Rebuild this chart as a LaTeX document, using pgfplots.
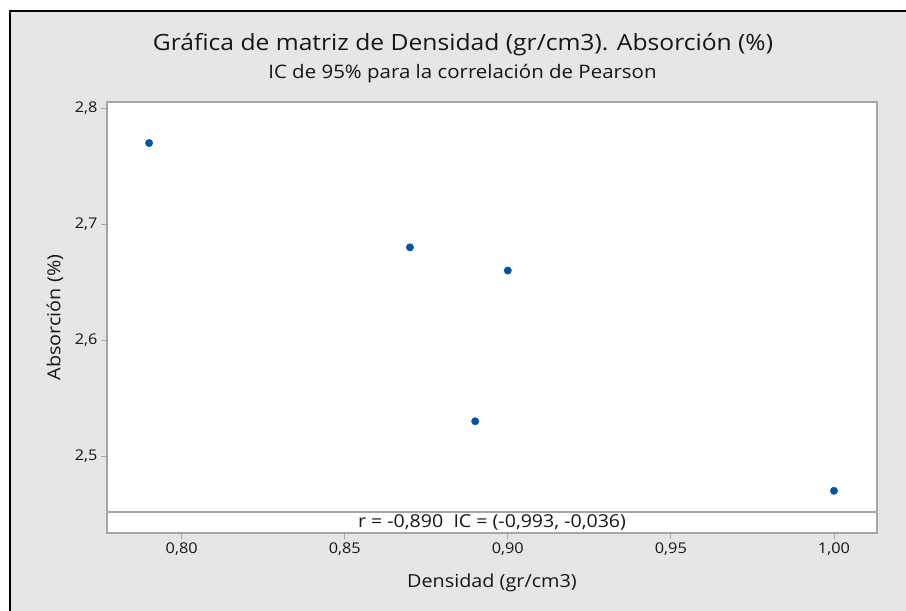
\documentclass[border=0pt]{standalone}
\usepackage{pgfplots}
\pgfplotsset{compat=1.18}
\usepackage{fontspec}
\setmainfont{Open Sans}[FakeStretch=1.1]
\definecolor{bggray}{HTML}{E6E6E6}
\definecolor{axgray}{HTML}{A6A6A6}
\definecolor{ptblue}{HTML}{0054A6}
\definecolor{txt}{HTML}{161616}
\begin{document}
\begin{tikzpicture}
\useasboundingbox (0pt,0pt) rectangle (906pt,611pt);
\fill[white] (0pt,0pt) rectangle (906pt,611pt);
\fill[bggray] (10pt,0pt) rectangle (906pt,600pt);
\draw[black, line width=2pt] (10pt,0pt) -- (10pt,600pt) -- (906pt,600pt);
\node[font=\fontsize{22.4}{26}\selectfont, text=txt] at (463pt,566pt) {Gráfica de matriz de Densidad (gr/cm3). Absorción (\%)};
\node[font=\fontsize{18.6}{22}\selectfont, text=txt] at (462.5pt,537pt) {IC de 95\% para la correlación de Pearson};
\begin{axis}[
  at={(107pt,78pt)}, anchor=south west,
  scale only axis, width=770pt, height=431pt,
  xmin=0.7771, xmax=1.0132,
  ymin=2.4336, ymax=2.8054,
  axis background/.style={fill=white},
  axis line style={axgray, line width=1.2pt},
  xtick={0.80,0.85,0.90,0.95,1.00},
  ytick={2.5,2.6,2.7,2.8},
  tick style={axgray, line width=0.8pt},
  tick align=outside, major tick length=5.5pt,
  xtick pos=bottom, ytick pos=left,
  xticklabel style={/pgf/number format/fixed, /pgf/number format/fixed zerofill, /pgf/number format/precision=2, /pgf/number format/use comma, yshift=-1pt},
  yticklabel style={/pgf/number format/fixed, /pgf/number format/fixed zerofill, /pgf/number format/precision=1, /pgf/number format/use comma, xshift=-0.5pt},
  /pgf/number format/assume math mode=true,
  tick label style={font=\fontsize{14.8}{17}\selectfont, text=txt},
  xlabel={Densidad (gr/cm3)},
  ylabel={Absorción (\%)},
  label style={font=\fontsize{18}{21}\selectfont, text=txt},
  xlabel style={at={(axis description cs:0.5,-0.116)}, anchor=center},
  ylabel style={at={(axis description cs:-0.0675,0.5)}, anchor=center},
  clip=false,
]
\addplot[only marks, mark=*, mark size=3.7pt, color=ptblue] coordinates {
  (0.79,2.77) (0.87,2.68) (0.89,2.53) (0.90,2.66) (1.00,2.47)
};
\draw[axgray, line width=1.2pt] (rel axis cs:0,0.0487) -- (rel axis cs:1,0.0487);
\node[font=\fontsize{17.8}{20}\selectfont, text=txt] at (rel axis cs:0.5,0.0255) {r = -0,890\ \ IC = (-0,993, -0,036)};
\end{axis}
\end{tikzpicture}
\end{document}
